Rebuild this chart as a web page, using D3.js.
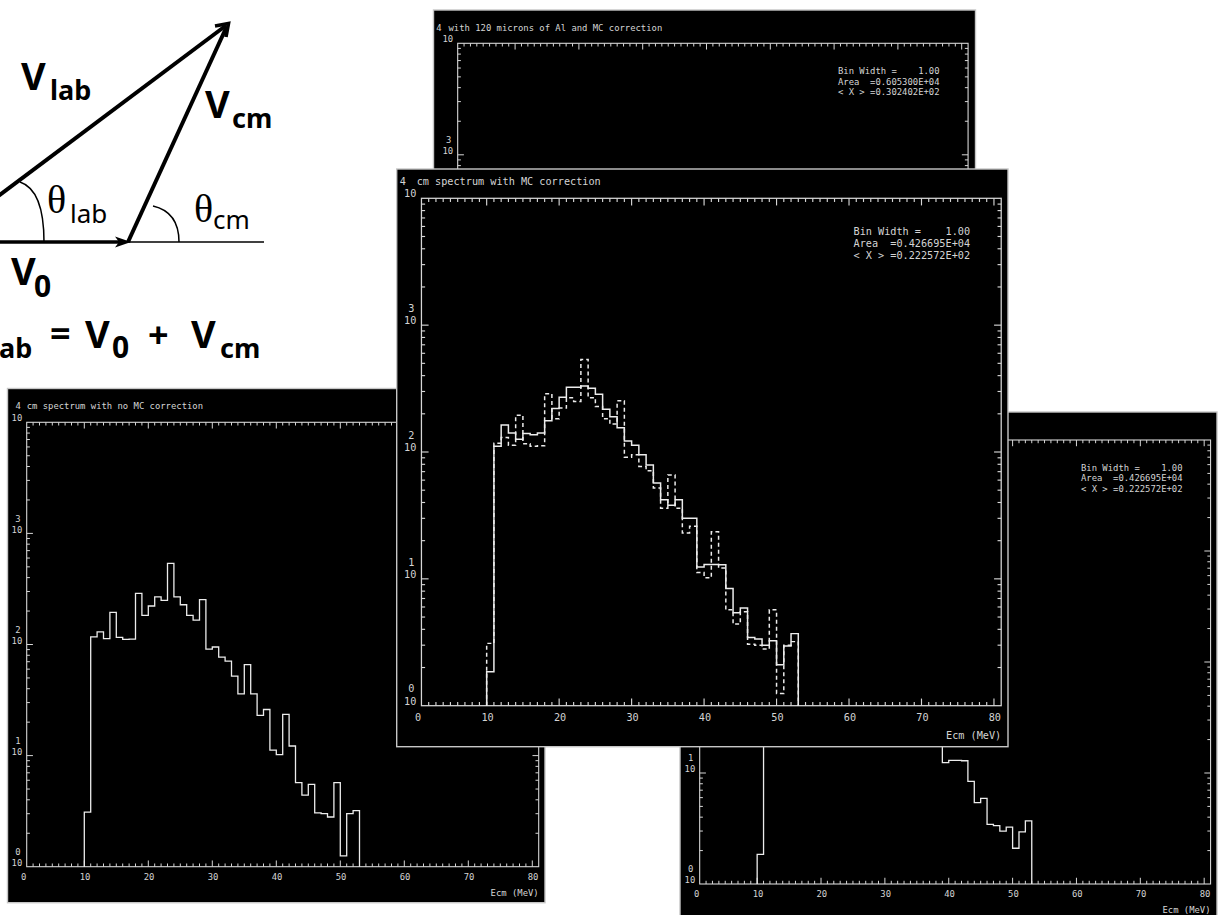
<!DOCTYPE html>
<html><head><meta charset="utf-8">
<script src="https://cdn.jsdelivr.net/npm/d3@7"></script>
<style>
html,body{margin:0;padding:0;background:#fff;}
svg{display:block;}
.mono{font-family:"DejaVu Sans Mono",monospace;fill:#d4d4d4;white-space:pre;}
</style></head>
<body>
<svg id="fig" width="1221" height="915"></svg>
<script>
// ---- data: 1 MeV bins starting at 10 MeV (counts per bin) ----
const binStart = 10;
const binWidth = 1;
const countsNoCorr = [3.1,117,130,113,195,116,111,112,288,183,222,268,250,537,268,228,183,166,253,91,95,77,71,52,36,66,36,23,26,11.2,10.2,23.5,12.2,5.7,4.4,5.5,3.05,3.0,2.8,5.7,1.25,3.0,3.2];
const countsMC = [1.85,111,163,141,126,140,137,141,176,220,270,324,324,332,318,285,217,190,155,122,113,95,79,57,42,38,42,30,30,12.4,13.0,13.0,12.9,8.4,5.4,5.9,3.45,3.35,3.0,3.25,2.1,2.95,3.7];
const xTickLabels = [0,10,20,30,40,50,60,70,80];
const yDecades = [0,1,2,3,4];
const titleAl = "with 120 microns of Al and MC correction";
const titleNoMC = "cm spectrum with no MC correction";
const titleMC = "cm spectrum with MC correction";
const statsAl = ["Bin Width =    1.00", "Area  =0.605300E+04", "< X > =0.302402E+02"];
const statsMC = ["Bin Width =    1.00", "Area  =0.426695E+04", "< X > =0.222572E+02"];
const xLabel = "Ecm (MeV)";

const svg = d3.select("#fig");
svg.append("rect").attr("width",1221).attr("height",915).attr("fill","#fff");

// ---- velocity addition diagram ----
const dia = svg.append("g");
const ink = "#000";
dia.append("line").attr("x1",-5).attr("y1",242).attr("x2",120).attr("y2",242)
  .attr("stroke",ink).attr("stroke-width",3.4);
dia.append("path").attr("d","M131,242 L115,236.5 L119,242 L115,247.5 Z").attr("fill",ink);
dia.append("line").attr("x1",128).attr("y1",242).attr("x2",264).attr("y2",242)
  .attr("stroke",ink).attr("stroke-width",1.5);
dia.append("line").attr("x1",-63).attr("y1",242).attr("x2",226).attr("y2",25.5)
  .attr("stroke",ink).attr("stroke-width",4);
dia.append("line").attr("x1",128).attr("y1",242).attr("x2",226.5).attr("y2",27)
  .attr("stroke",ink).attr("stroke-width",4);
dia.append("path").attr("d","M215,26 L228.5,23.5 L226,37").attr("fill","none")
  .attr("stroke",ink).attr("stroke-width",3.6).attr("stroke-linejoin","miter");
dia.append("path").attr("d","M20,182 Q44,190 44,242").attr("fill","none").attr("stroke",ink).attr("stroke-width",1.5);
dia.append("path").attr("d","M153,206 Q179,212 179,242").attr("fill","none").attr("stroke",ink).attr("stroke-width",1.5);

const sans = '"Noto Sans","DejaVu Sans",sans-serif';
function lbl(x,y,t,size,weight,fam){
  return dia.append("text").attr("x",x).attr("y",y).text(t)
    .attr("font-family",fam||sans).attr("font-size",size).attr("font-weight",weight||700).attr("fill",ink);
}
lbl(21,90,"V",38); lbl(50,100,"lab",27);
lbl(205,118,"V",38); lbl(232,128,"cm",27);
lbl(47,213,"\u03B8",40,400,'"Liberation Serif",serif'); lbl(70,223,"lab",26,400);
lbl(194,222,"\u03B8",40,400,'"Liberation Serif",serif'); lbl(213,229,"cm",26,400);
lbl(11,285,"V",38); lbl(34,297,"0",30);
// equation line (starts beyond the left edge)
lbl(-38,348,"V",38); lbl(-9,358,"lab",27);
lbl(50,346,"=",36); lbl(85,348,"V",38); lbl(112,358,"0",30);
lbl(148,348,"+",36); lbl(191,348,"V",38); lbl(220,358,"cm",27);

// ---- histogram panels ----
function stepPoints(vals){
  const pts = [[binStart, 1]];
  vals.forEach((v,i)=>{
    const lo = binStart + i*binWidth;
    pts.push([lo, v], [lo + binWidth, v]);
  });
  pts.push([binStart + vals.length*binWidth, 1]);
  return pts;
}

function drawPanel(p){
  const g = svg.append("g");
  const fs = p.fs, cw = 0.602*fs;
  const x = d3.scaleLinear().domain([0,80]).range([p.x0, p.x0 + 80*p.ppu]);
  const y = d3.scaleLog().domain([1,1e4]).range([p.yB, p.yT]);
  const fl = x(1), fr = x(81), ft = p.yT, fb = p.yB;
  const tc = "#d6d6d6";
  const sw = fs/8.9;

  g.append("rect").attr("x",p.box[0]).attr("y",p.box[1])
    .attr("width",p.box[2]-p.box[0]).attr("height",p.box[3]-p.box[1])
    .attr("fill","#000").attr("stroke","#c6c6c6").attr("stroke-width",1.4);

  g.append("rect").attr("x",fl).attr("y",ft).attr("width",fr-fl).attr("height",fb-ft)
    .attr("fill","none").attr("stroke",tc).attr("stroke-width",1.1*sw);

  // energy ticks on top and bottom edges, pointing inward
  d3.range(2,81).forEach(v=>{
    const L = (v % 10 === 0 ? 0.7 : 0.36)*fs;
    g.append("line").attr("x1",x(v)).attr("x2",x(v)).attr("y1",ft).attr("y2",ft+L).attr("stroke",tc).attr("stroke-width",sw);
    g.append("line").attr("x1",x(v)).attr("x2",x(v)).attr("y1",fb).attr("y2",fb-L).attr("stroke",tc).attr("stroke-width",sw);
  });
  // logarithmic ticks on left and right edges, pointing inward
  const yt = [];
  [0,1,2,3].forEach(k=>{ d3.range(1,10).forEach(m=>{ if(!(k===0&&m===1)) yt.push([m*Math.pow(10,k), m===1]); }); });
  yt.forEach(([v,maj])=>{
    const L = (maj ? 0.7 : 0.36)*fs;
    g.append("line").attr("x1",fl).attr("x2",fl+L).attr("y1",y(v)).attr("y2",y(v)).attr("stroke",tc).attr("stroke-width",sw);
    g.append("line").attr("x1",fr).attr("x2",fr-L).attr("y1",y(v)).attr("y2",y(v)).attr("stroke",tc).attr("stroke-width",sw);
  });

  const txt = (xx,yy,t,anchor)=> g.append("text").attr("class","mono").attr("font-size",fs)
      .attr("x",xx).attr("y",yy).attr("text-anchor",anchor||"start").text(t);

  xTickLabels.forEach(v=> txt(x(v)+1.15*cw, fb+1.5*fs, v, "end"));
  const tenRight = fl - 0.5*fs;
  yDecades.forEach(k=>{
    const yy = y(Math.pow(10,k));
    txt(tenRight, yy - 0.1*fs, "10", "end");
    if (k < 4) txt(tenRight - 0.2*fs, yy - 1.3*fs, k, "end");
  });
  txt(p.expX, p.titleY, 4, "end");
  txt(fr, fb + 3.3*fs, xLabel, "end");

  if (p.title) txt(p.titleX, p.titleY, p.title);
  if (p.stats) p.stats.forEach((s,i)=> txt(p.statsX, p.statsY + i*p.statsDY, s));

  const line = d3.line().x(d=>x(d[0])).y(d=>y(d[1]));
  (p.series||[]).forEach(s=>{
    g.append("path").attr("d",line(stepPoints(s.values))).attr("fill","none")
      .attr("stroke","#ececec").attr("stroke-width",1.3*sw)
      .attr("stroke-dasharray",s.dashed ? "4,3" : null);
  });
}

// panel behind, top: 120 microns of Al
drawPanel({box:[433.5,10,975.5,525], x0:451.3, ppu:6.38, yT:43.3, yB:489.3, fs:8.9,
  title:titleAl, titleX:448.5, titleY:31, expX:441.5,
  stats:statsAl, statsX:838, statsY:74, statsDY:10.5, series:[]});
// panel behind, left: no MC correction
drawPanel({box:[7.5,388.5,545,902.7], x0:20.3, ppu:6.4, yT:422.3, yB:866.7, fs:8.9,
  title:titleNoMC, titleX:26.7, titleY:409, expX:20.8,
  series:[{values:countsNoCorr}]});
// panel behind, right: MC corrected
drawPanel({box:[680,412,1217,927], x0:693.3, ppu:6.386, yT:440, yB:884, fs:8.9,
  titleY:461, expX:694,
  stats:statsMC, statsX:1081, statsY:470.6, statsDY:10.5, series:[{values:countsMC}]});
// front panel: MC corrected with uncorrected spectrum dashed
drawPanel({box:[396.7,169,1008,746.7], x0:414.2, ppu:7.247, yT:198.3, yB:705.7, fs:10.2,
  title:titleMC, titleX:416.7, titleY:185, expX:405.8,
  stats:statsMC, statsX:853.5, statsY:234.7, statsDY:12,
  series:[{values:countsNoCorr,dashed:true},{values:countsMC}]});
</script>
</body></html>
